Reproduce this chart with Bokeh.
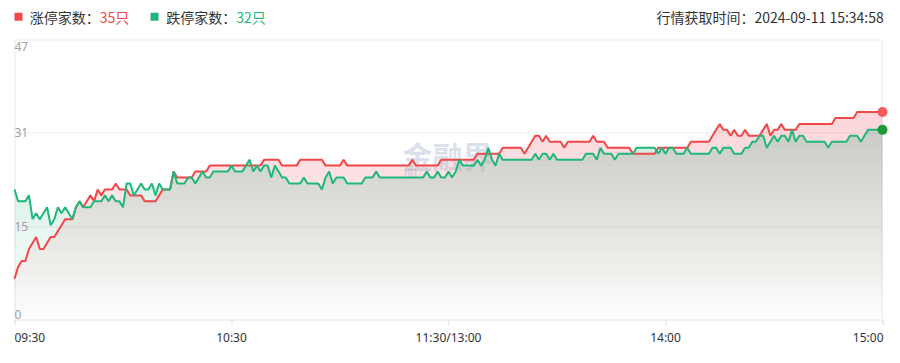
import math
from bokeh.plotting import figure
from bokeh.models import Range1d
from bokeh.core.properties import value
from bokeh.embed import file_html
from bokeh.resources import INLINE

# ---------------- data ----------------
minutes = list(range(241))  # 09:30 .. 11:30/13:00 .. 15:00, one point per trading minute

up_counts = [  # 涨停家数
    7, 9, 10, 10, 12, 13, 14, 12, 12, 13,
    14, 14, 15, 16, 17, 17, 17, 19, 20, 19,
    20, 21, 20, 22, 21, 22, 22, 22, 23, 22,
    22, 22, 21, 21, 21, 21, 20, 20, 20, 20,
    21, 22, 22, 22, 25, 24, 24, 24, 24, 24,
    25, 25, 25, 25, 26, 26, 26, 26, 26, 26,
    26, 26, 26, 26, 26, 26, 26, 26, 26, 27,
    27, 27, 27, 27, 26, 26, 26, 26, 26, 27,
    27, 27, 27, 27, 27, 27, 26, 26, 26, 26,
    26, 27, 26, 26, 26, 26, 26, 26, 26, 26,
    26, 26, 26, 26, 26, 26, 26, 26, 26, 26,
    27, 26, 26, 26, 26, 26, 26, 26, 27, 27,
    27, 27, 27, 27, 27, 27, 27, 27, 28, 28,
    28, 28, 28, 28, 28, 29, 29, 29, 29, 29,
    29, 28, 29, 30, 31, 31, 30, 31, 30, 30,
    30, 30, 29, 30, 30, 30, 30, 30, 30, 30,
    31, 30, 30, 30, 29, 29, 29, 29, 29, 29,
    29, 28, 28, 28, 28, 28, 28, 28, 29, 29,
    29, 29, 29, 29, 29, 29, 29, 30, 30, 30,
    30, 30, 30, 31, 32, 33, 32, 32, 31, 32,
    31, 31, 32, 31, 31, 31, 31, 32, 33, 31,
    32, 32, 33, 32, 32, 32, 32, 33, 33, 33,
    33, 33, 33, 33, 33, 33, 33, 34, 34, 34,
    34, 34, 34, 35, 35, 35, 35, 35, 35, 35,
    35,
]

down_counts = [  # 跌停家数
    22, 20, 20, 20, 21, 17, 18, 17, 18, 19,
    16, 17, 19, 18, 19, 18, 17, 19, 20, 19,
    19, 19, 20, 20, 20, 21, 20, 21, 20, 20,
    19, 23, 23, 21, 22, 23, 22, 22, 23, 21,
    23, 22, 22, 22, 25, 23, 23, 23, 24, 24,
    23, 24, 25, 24, 24, 25, 25, 25, 25, 25,
    26, 25, 25, 25, 26, 27, 25, 26, 25, 26,
    26, 24, 26, 25, 24, 24, 23, 23, 23, 23,
    24, 23, 23, 23, 23, 22, 24, 25, 23, 24,
    24, 24, 23, 23, 23, 23, 23, 24, 24, 24,
    25, 24, 24, 24, 24, 24, 24, 24, 24, 24,
    24, 24, 24, 24, 25, 24, 24, 25, 24, 24,
    25, 24, 25, 27, 26, 26, 26, 26, 27, 26,
    27, 29, 27, 26, 28, 27, 27, 27, 27, 27,
    27, 27, 27, 27, 28, 27, 28, 28, 27, 28,
    27, 27, 27, 27, 27, 27, 27, 27, 28, 28,
    28, 27, 29, 28, 28, 28, 27, 28, 28, 28,
    28, 28, 29, 29, 29, 29, 29, 29, 28, 29,
    28, 29, 29, 28, 28, 28, 29, 28, 28, 28,
    28, 28, 28, 29, 29, 28, 29, 29, 29, 28,
    28, 28, 29, 29, 30, 30, 31, 31, 29, 30,
    31, 30, 31, 31, 30, 32, 30, 31, 31, 30,
    30, 30, 30, 30, 30, 29, 30, 30, 30, 30,
    30, 31, 31, 31, 30, 31, 32, 32, 32, 32,
    32,
]

x_ticks = [0, 60, 120, 180, 240]
x_tick_labels = ["09:30", "10:30", "11:30/13:00", "14:00", "15:00"]
y_max = 47
y_ticks = [0, 47 / 3, 94 / 3, 47]
y_tick_labels = ["0", "15", "31", "47"]
up_name, down_name = "涨停家数：", "跌停家数："
up_total, down_total = 35, 32
time_text = "行情获取时间：2024-09-11 15:34:58"
watermark = "金融界"

# ---------------- styling / layout ----------------
RED = "#f04848"
GREEN = "#1fb77a"
RED_FILL = "#ec4a5c"
GREEN_FILL = "#1aa878"
CJK = "Noto Sans CJK SC"
LAT = "Noto Sans"

W, H = 900, 360
PL, PR, PT, PB = 14, 882, 40, 320          # plot area on the page (px)
px_x = (PR - PL) / (x_ticks[-1] - x_ticks[0])
px_y = (PB - PT) / y_max


def X(px):
    return x_ticks[0] + (px - PL) / px_x


def Y(py):
    return (PB - py) / px_y


p = figure(width=W, height=H, x_range=Range1d(X(0), X(W)), y_range=Range1d(Y(H), Y(0)),
           output_backend="svg", toolbar_location=None,
           x_axis_location=None, y_axis_location=None, min_border=0)
p.outline_line_color = None
for g in p.grid:
    g.visible = False
p.background_fill_color = "white"
p.border_fill_color = "white"

x0, x1 = x_ticks[0], x_ticks[-1]

# horizontal grid lines (crisp: half-pixel aligned)
for v in y_ticks[1:]:
    gy = Y(round(PB - v * px_y) - 0.5)
    p.segment(x0=x0, y0=gy, x1=x1, y1=gy, line_color="#ededf2", line_width=1)
# left / right borders of the plot area
for bx in (X(PL + 0.5), X(PR - 0.5)):
    p.segment(x0=bx, y0=Y(PT - 0.5), x1=bx, y1=Y(PB), line_color="#e8e8ee", line_width=1)

# ---------------- gradient areas (pixel-aligned translucent bands) ----------------
def clip_series(xs, ys, lo, hi):
    Xs, Ys = [], []
    for i in range(len(xs)):
        if i:
            xa, ya, xb, yb = xs[i - 1], ys[i - 1], xs[i], ys[i]
            cs = []
            for lev in (lo, hi):
                if (ya - lev) * (yb - lev) < 0:
                    cs.append(xa + (lev - ya) / (yb - ya) * (xb - xa))
            for xc in sorted(cs):
                yc = ya + (xc - xa) / (xb - xa) * (yb - ya)
                Xs.append(xc)
                Ys.append(min(max(yc, lo), hi))
        Xs.append(xs[i])
        Ys.append(min(max(ys[i], lo), hi))
    return Xs, Ys


def gradient_area(ys, color, top_alpha, band_px=3):
    top = max(ys)
    n = int(math.ceil(top * px_y / band_px))
    for k in range(n):
        lo = k * band_px / px_y
        hi = (k + 1) * band_px / px_y
        Xs, Ys = clip_series(minutes, ys, lo, hi)
        a = top_alpha * min(1.0, (lo + hi) / 2 / top)
        p.varea(x=Xs, y1=lo, y2=Ys, fill_color=color, fill_alpha=round(a, 3))


gradient_area(up_counts, RED_FILL, 0.24)
gradient_area(down_counts, GREEN_FILL, 0.22)

# x axis line and tick marks
ay = Y(PB - 0.5)
p.segment(x0=x0, y0=ay, x1=x1, y1=ay, line_color="#e2e2e8", line_width=1)
for t in x_ticks:
    tx = X(round(PL + (t - x0) * px_x) + 0.5)
    p.segment(x0=tx, y0=ay, x1=tx, y1=Y(PB + 5), line_color="#dcdce2", line_width=1)

# watermark
p.text(x=[X(447)], y=[Y(154)], text=[watermark], text_font=value(CJK),
       text_font_style="bold", text_font_size="30px", text_align="center",
       text_baseline="middle", text_color="#9fb0c8", text_alpha=0.4)
p.text(x=[X(410)], y=[Y(172.5)], text=["JRJ"], text_font=value(LAT),
       text_font_style="bold", text_font_size="10px", text_align="center",
       text_baseline="middle", text_color="#9fb0c8", text_alpha=0.4)

# series lines and end markers
p.line(minutes, up_counts, line_color=RED, line_width=2)
p.line(minutes, down_counts, line_color=GREEN, line_width=2)
p.scatter([minutes[-1]], [up_counts[-1]], size=10, fill_color="#f45a5a", line_color=None)
p.scatter([minutes[-1]], [down_counts[-1]], size=10, fill_color="#22983a", line_color=None)

# y tick labels (inside the plot area)
for v, s in zip(y_ticks, y_tick_labels):
    py = PB - v * px_y
    if v == y_max:
        ty, base = Y(py + 1), "top"
    elif v == 0:
        ty, base = Y(py - 2), "bottom"
    else:
        ty, base = Y(py - 1), "middle"
    p.text(x=[X(PL)], y=[ty], text=[s], text_font=value(LAT), text_font_size="12px",
           text_color="#a0a0a0", text_align="left", text_baseline=base)

# x tick labels
for i, (t, s) in enumerate(zip(x_ticks, x_tick_labels)):
    if i == 0:
        align, tx = "left", t
    elif i == len(x_ticks) - 1:
        align, tx = "right", t + X(PL + 1)
    else:
        align, tx = "center", t
    p.text(x=[tx], y=[Y(PB + 8)], text=[s], text_font=value(LAT), text_font_size="12px",
           text_color="#333333", text_align=align, text_baseline="top")

# legend row
LYP = 16.3
p.scatter([X(18)], [Y(LYP)], marker="square", size=8, fill_color=RED, line_color=None)
p.scatter([X(154)], [Y(LYP)], marker="square", size=8, fill_color=GREEN, line_color=None)
for lx, txt, col in [(29.3, up_name, "#333333"), (99.3, f"{up_total}只", RED),
                     (165.7, down_name, "#333333"), (235.7, f"{down_total}只", GREEN)]:
    p.text(x=[X(lx)], y=[Y(LYP)], text=[txt], text_font=value(CJK), text_font_size="14px",
           text_color=col, text_align="left", text_baseline="middle")
p.text(x=[X(883.3)], y=[Y(LYP)], text=[time_text], text_font=value(CJK),
       text_font_size="14px", text_color="#333333", text_align="right",
       text_baseline="middle")

open("out.html", "w").write(file_html(p, INLINE))
